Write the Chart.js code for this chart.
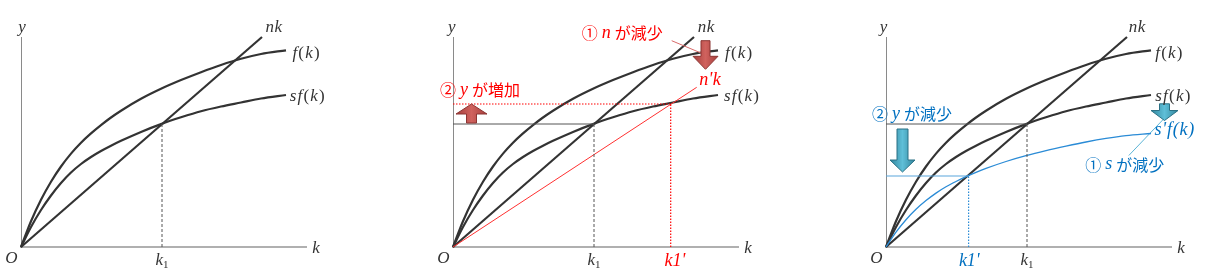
<!DOCTYPE html>
<html>
<head>
<meta charset="utf-8">
<script src="https://cdn.jsdelivr.net/npm/chart.js@4.4.1/dist/chart.umd.min.js"></script>
<style>
  html, body { margin: 0; padding: 0; background: #fff; }
  #wrap { position: relative; width: 1222px; height: 275px; overflow: hidden; }
  .panel { position: absolute; top: 0; width: 358px; height: 275px; }
</style>
</head>
<body>
<div id="wrap">
  <div class="panel" style="left:0px"><canvas id="c1" width="358" height="275"></canvas></div>
  <div class="panel" style="left:432px"><canvas id="c2" width="358" height="275"></canvas></div>
  <div class="panel" style="left:865px"><canvas id="c3" width="358" height="275"></canvas></div>
</div>
<script>
// curve values (k across, y up, same units on all three panels)
const kGrid = [0, 10, 20, 30, 40, 50, 60, 70, 80, 90, 100, 120, 140, 160, 180, 200, 220, 240, 265];
const fY  = [0, 25.8, 47.3, 65.3, 80.5, 93.4, 104.3, 113.6, 121.9, 129.5, 136.3, 148.2, 158.2, 166.9, 174.8, 182, 188.2, 193, 196.7];
const sfY = [0, 20, 37, 51.5, 64, 74.5, 83, 90, 96, 101.3, 106.2, 115.1, 122.9, 129.7, 135.8, 140.5, 144.5, 148.5, 152];

const nkK = [0, 241];
const nkY = [0, 210];

// panel 2: n falls
const nPrimeK = [0, 243.7];
const nPrimeY = [0, 159.7];

// panel 3: s falls
const sPrimeY = [0, 14.9, 27.3, 37.7, 46.4, 53.9, 60.2, 65.5, 70.3, 74.7, 78.6, 85.5, 91.3, 96.3, 100.8, 105, 108.6, 111.4, 113.5];

// steady states
const k1 = 141, y1 = 123;          // original
const k1n = 217.7, y1n = 143;      // after n falls
const k1s = 82.6, y1s = 71;        // after s falls

// leader lines from the notes
const nLeaderK = [218.7, 248.7], nLeaderY = [206.3, 193.7];
const sLeaderK = [242.8, 277.8], sLeaderY = [91.5, 128.2];

const BLACK = '#333333';
const RED = '#ff0000';
const BLUE = '#0070c0';

const FONTS = {
  m: 'italic 17px "Liberation Serif"',
  mb: 'italic 18px "Liberation Serif"',
  r: '17px "Liberation Serif"',
  sub: '11px "Liberation Serif"',
  j: '16px "Noto Sans CJK JP"'
};

function pts(xs, ys) {
  return xs.map((x, i) => ({x: x, y: ys[i]}));
}

function curve(xs, ys, color, width) {
  return {data: pts(xs, ys), borderColor: color, borderWidth: width, showLine: true,
          cubicInterpolationMode: 'monotone', pointRadius: 0, fill: false, clip: false};
}

function seg(xs, ys, color, width, dash) {
  return {data: pts(xs, ys), borderColor: color, borderWidth: width, showLine: true,
          tension: 0, borderDash: dash || [], pointRadius: 0, fill: false, clip: false};
}

function blackCurves() {
  return [
    curve(kGrid, fY, BLACK, 2.2),
    curve(kGrid, sfY, BLACK, 2.2),
    seg(nkK, nkY, BLACK, 2.2)
  ];
}

function drawArrow(ctx, cx, p0, p1, a) {
  // p0 = tail pixel, p1 = tip pixel
  const dir = p1 > p0 ? 1 : -1;
  const ph = p1 - dir * a.headLen;
  const g = ctx.createLinearGradient(cx - a.head / 2, 0, cx + a.head / 2, 0);
  g.addColorStop(0, a.dark);
  g.addColorStop(0.5, a.light);
  g.addColorStop(1, a.dark);
  ctx.beginPath();
  ctx.moveTo(cx - a.shaft / 2, p0);
  ctx.lineTo(cx + a.shaft / 2, p0);
  ctx.lineTo(cx + a.shaft / 2, ph);
  ctx.lineTo(cx + a.head / 2, ph);
  ctx.lineTo(cx, p1);
  ctx.lineTo(cx - a.head / 2, ph);
  ctx.lineTo(cx - a.shaft / 2, ph);
  ctx.closePath();
  ctx.fillStyle = g;
  ctx.fill();
  ctx.lineWidth = 1;
  ctx.strokeStyle = a.edge;
  ctx.stroke();
}

function drawLabel(ctx, px, py, l) {
  const gap = l.gap !== undefined ? l.gap : 1.2;
  ctx.textBaseline = 'middle';
  ctx.fillStyle = l.color || BLACK;
  const widths = l.parts.map(p => { ctx.font = FONTS[p[1]]; return ctx.measureText(p[0]).width; });
  const total = widths.reduce((a, b) => a + b, 0) + gap * (l.parts.length - 1);
  let cx = l.align === 'center' ? px - total / 2 : px;
  l.parts.forEach((p, i) => {
    ctx.font = FONTS[p[1]];
    ctx.fillText(p[0], cx, p[1] === 'sub' ? py + 4 : py);
    cx += widths[i] + gap;
  });
}

const marksPlugin = {
  id: 'marks',
  afterDatasetsDraw(chart, args, opts) {
    const ctx = chart.ctx;
    const x = chart.scales.x, y = chart.scales.y;
    ctx.save();
    (opts.arrows || []).forEach(a => {
      drawArrow(ctx, x.getPixelForValue(a.x), y.getPixelForValue(a.from), y.getPixelForValue(a.to), a);
    });
    (opts.labels || []).forEach(l => {
      drawLabel(ctx, x.getPixelForValue(l.x), y.getPixelForValue(l.y), l);
    });
    ctx.restore();
  }
};

const FK = [['f', 'm'], ['(', 'r'], ['k', 'm'], [')', 'r']];
const SFK = [['s', 'm']].concat(FK);

function axisLabels(p) {
  return [
    {x: p.yx, y: 219, parts: [['y', 'm']], align: 'center'},
    {x: p.nkx, y: 219, parts: [['n', 'm'], ['k', 'm']], align: 'center', gap: 0.5},
    {x: p.fx, y: 193.2, parts: FK},
    {x: p.sfx, y: 150.5, parts: SFK},
    {x: 295, y: -2, parts: [['k', 'm']], align: 'center'},
    {x: -9.5, y: -11.5, parts: [['O', 'm']], align: 'center'},
    {x: 141, y: -14, parts: [['k', 'm'], ['1', 'sub']], align: 'center', gap: 0}
  ];
}

function makeOptions(marks) {
  return {
    responsive: false,
    animation: false,
    events: [],
    layout: {padding: {left: 21, right: 52, top: 37, bottom: 28}},
    plugins: {legend: {display: false}, tooltip: {enabled: false}, marks: marks},
    scales: {
      x: {type: 'linear', min: 0, max: 285,
          grid: {display: false, drawTicks: false}, ticks: {display: false},
          border: {color: '#b0b0b0', width: 2}},
      y: {type: 'linear', min: 0, max: 210,
          grid: {display: false, drawTicks: false}, ticks: {display: false},
          border: {color: '#8a8a8a', width: 1}}
    }
  };
}

const redArrow = {dark: '#a53e3b', light: '#d0625e', edge: '#8c3533', shaft: 9, head: 25, headLen: 13};
const blueArrow = {dark: '#31859c', light: '#5fbfd8', edge: '#2b7185', shaft: 11, head: 25, headLen: 12};

// panel 1
new Chart(document.getElementById('c1'), {
  type: 'scatter',
  data: {datasets: [seg([k1, k1], [0, y1], '#555', 1, [3, 2])].concat(blackCurves())},
  options: makeOptions({labels: axisLabels({yx: 1, nkx: 252.7, fx: 271.4, sfx: 268.7})}),
  plugins: [marksPlugin]
});

// panel 2
new Chart(document.getElementById('c2'), {
  type: 'scatter',
  data: {datasets: [
    seg([k1, k1], [0, y1], '#555', 1, [3, 2]),
    seg([0, k1], [y1, y1], '#555', 1),
    seg([0, k1n], [y1n, y1n], RED, 1.2, [1.5, 1.5]),
    seg([k1n, k1n], [0, y1n], RED, 1.2, [1.5, 1.5]),
    seg(nPrimeK, nPrimeY, '#ff3030', 1),
    seg(nLeaderK, nLeaderY, '#d86a6a', 1)
  ].concat(blackCurves())},
  options: makeOptions({
    arrows: [
      Object.assign({x: 252.5, from: 206.3, to: 177.7}, redArrow),
      Object.assign({x: 18.5, from: 124, to: 143}, redArrow, {shaft: 10, head: 31, headLen: 10})
    ],
    labels: axisLabels({yx: -1.3, nkx: 253, fx: 272, sfx: 271}).concat([
      {x: 222, y: -14, parts: [['k', 'mb'], ['1', 'mb'], ["'", 'mb']], align: 'center', color: RED, gap: 0},
      {x: 257, y: 167, parts: [['n', 'mb'], ["'", 'mb'], ['k', 'mb']], align: 'center', color: RED, gap: 0.3},
      {x: 128.7, y: 213.7, parts: [['①', 'j'], ['n', 'mb'], ['が減少', 'j']], color: RED, gap: 4},
      {x: -13, y: 157, parts: [['②', 'j'], ['y', 'mb'], ['が増加', 'j']], color: RED, gap: 4}
    ])
  }),
  plugins: [marksPlugin]
});

// panel 3
new Chart(document.getElementById('c3'), {
  type: 'scatter',
  data: {datasets: [
    seg([k1, k1], [0, y1], '#555', 1, [3, 2]),
    seg([0, k1], [y1, y1], '#555', 1),
    seg([0, k1s], [y1s, y1s], '#5aa5dc', 1.2),
    seg([k1s, k1s], [0, y1s], '#2a8bd6', 1.2, [1.5, 1.5]),
    curve(kGrid, sPrimeY, '#2a8bd6', 1.3),
    seg(sLeaderK, sLeaderY, '#5ab4d6', 1)
  ].concat(blackCurves())},
  options: makeOptions({
    arrows: [
      Object.assign({x: 16.5, from: 118, to: 75}, blueArrow),
      Object.assign({x: 278.5, from: 143.2, to: 126.5}, blueArrow, {shaft: 10, head: 27, headLen: 10})
    ],
    labels: axisLabels({yx: -2.4, nkx: 251, fx: 269.3, sfx: 269.3}).concat([
      {x: 83.3, y: -14.5, parts: [['k', 'mb'], ['1', 'mb'], ["'", 'mb']], align: 'center', color: BLUE, gap: 0},
      {x: 268.5, y: 117, parts: [['s', 'mb'], ["'", 'mb'], ['f', 'mb'], ['(', 'mb'], ['k', 'mb'], [')', 'mb']], color: BLUE, gap: 0.8},
      {x: -14, y: 133.2, parts: [['②', 'j'], ['y', 'mb'], ['が減少', 'j']], color: BLUE, gap: 4},
      {x: 199.3, y: 82.5, parts: [['①', 'j'], ['s', 'mb'], ['が減少', 'j']], color: BLUE, gap: 4}
    ])
  }),
  plugins: [marksPlugin]
});
</script>
</body>
</html>
